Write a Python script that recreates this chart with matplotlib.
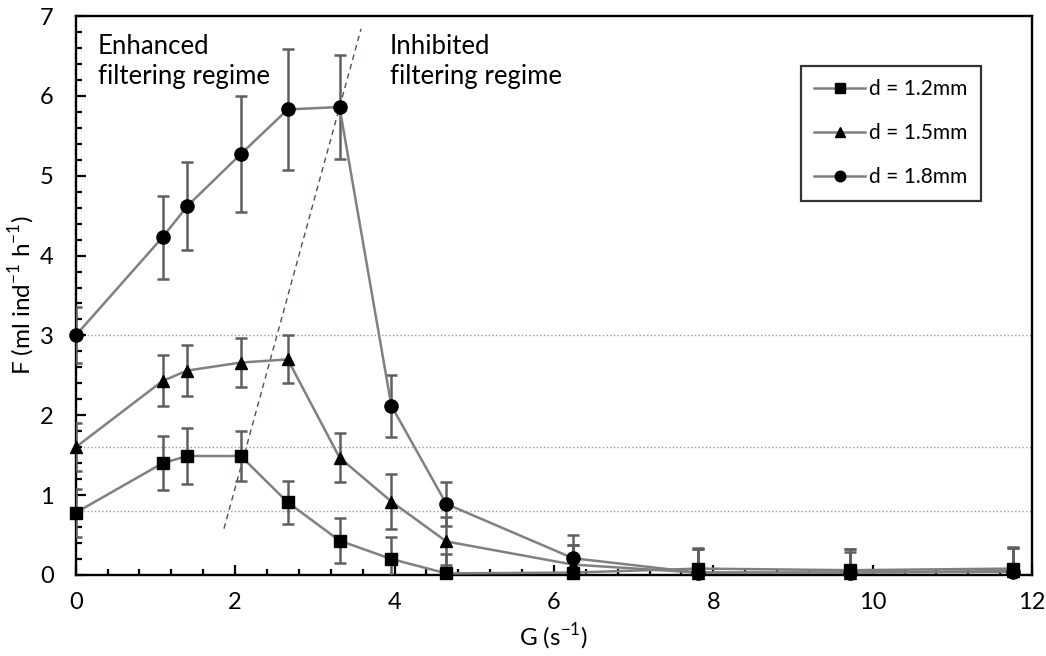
import matplotlib
matplotlib.use('Agg')
import matplotlib.pyplot as plt
from matplotlib.ticker import MultipleLocator

plt.rcParams['font.family'] = ['Lato', 'DejaVu Sans']
plt.rcParams['mathtext.fontset'] = 'custom'
plt.rcParams['mathtext.rm'] = 'Lato'

# shear rate G (s-1)
G = [0.0, 1.09, 1.40, 2.07, 2.66, 3.31, 3.96, 4.65, 6.24, 7.81, 9.71, 11.76]

# filtering rate F (ml ind-1 h-1) and error bars
F_12 = [0.78, 1.40, 1.49, 1.49, 0.91, 0.43, 0.20, 0.02, 0.03, 0.08, 0.06, 0.08]
E_12 = [0.30, 0.34, 0.35, 0.31, 0.27, 0.28, 0.27, 0.24, 0.35, 0.26, 0.23, 0.26]
F_15 = [1.60, 2.43, 2.56, 2.66, 2.70, 1.47, 0.92, 0.42, 0.13, 0.03, 0.03, 0.05]
E_15 = [0.30, 0.32, 0.32, 0.31, 0.30, 0.31, 0.34, 0.30, 0.25, 0.30, 0.30, 0.30]
F_18 = [3.00, 4.23, 4.62, 5.27, 5.83, 5.86, 2.12, 0.89, 0.21, 0.03, 0.03, 0.04]
E_18 = [0.35, 0.52, 0.55, 0.73, 0.76, 0.65, 0.39, 0.28, 0.29, 0.30, 0.30, 0.30]

series = [('d = 1.2mm', F_12, E_12, 's', 8.5),
          ('d = 1.5mm', F_15, E_15, '^', 9),
          ('d = 1.8mm', F_18, E_18, 'o', 9.5)]

# dotted reference levels (values at G = 0)
ref_levels = [3.0, 1.6, 0.8]

# dashed regime boundary
bound_x = [1.86, 3.58]
bound_y = [0.58, 6.84]

fig = plt.figure(figsize=(10.46, 6.56), dpi=100)
ax = fig.add_axes([0.0724, 0.1235, 0.9143, 0.8521])

for lev in ref_levels:
    ax.axhline(lev, color='#9a9a9a', linestyle=':', linewidth=1.0, zorder=1)

ax.plot(bound_x, bound_y, color='#44546a', linestyle='--', linewidth=1.0,
        dashes=(4, 3), zorder=2)

for label, f, e, m, ms in series:
    ax.errorbar(G, f, yerr=e, fmt='none', ecolor='#5f5f5f', elinewidth=1.8,
                capsize=4, capthick=1.8, zorder=3)
    ax.plot(G, f, color='#808080', linewidth=1.8, marker=m, markersize=ms,
            markerfacecolor='black', markeredgecolor='black', label=label,
            zorder=4, clip_on=False)

ax.set_xlim(0, 12)
ax.set_ylim(0, 7)
ax.xaxis.set_major_locator(MultipleLocator(2))
ax.xaxis.set_minor_locator(MultipleLocator(0.4))
ax.yaxis.set_major_locator(MultipleLocator(1))
ax.yaxis.set_minor_locator(MultipleLocator(0.2))
ax.tick_params(which='major', direction='in', length=7, width=1.6,
               labelsize=17, pad=12)
ax.tick_params(which='minor', direction='in', length=4, width=1.6)
ax.tick_params(axis='y', which='major', pad=16)
for sp in ax.spines.values():
    sp.set_linewidth(1.7)

ax.set_xlabel(r'G (s$^{\mathrm{-1}}$)', fontsize=17.5, labelpad=6)
ax.set_ylabel(r'F (ml ind$^{\mathrm{-1}}$ h$^{\mathrm{-1}}$)', fontsize=17.5, labelpad=2)

ax.text(0.28, 6.78, 'Enhanced\nfiltering regime', fontsize=18.5, va='top',
        ha='left', linespacing=1.25)
ax.text(3.94, 6.78, 'Inhibited\nfiltering regime', fontsize=18.5, va='top',
        ha='left', linespacing=1.25)

leg = ax.legend(loc='upper right', bbox_to_anchor=(0.947, 0.911), fontsize=15,
                frameon=True, fancybox=False, edgecolor='black',
                handlelength=2.45, labelspacing=1.15, borderpad=0.65,
                handletextpad=0.2, markerscale=0.8, borderaxespad=0)
leg.get_frame().set_linewidth(1.6)

plt.savefig('out.png', dpi=100)
